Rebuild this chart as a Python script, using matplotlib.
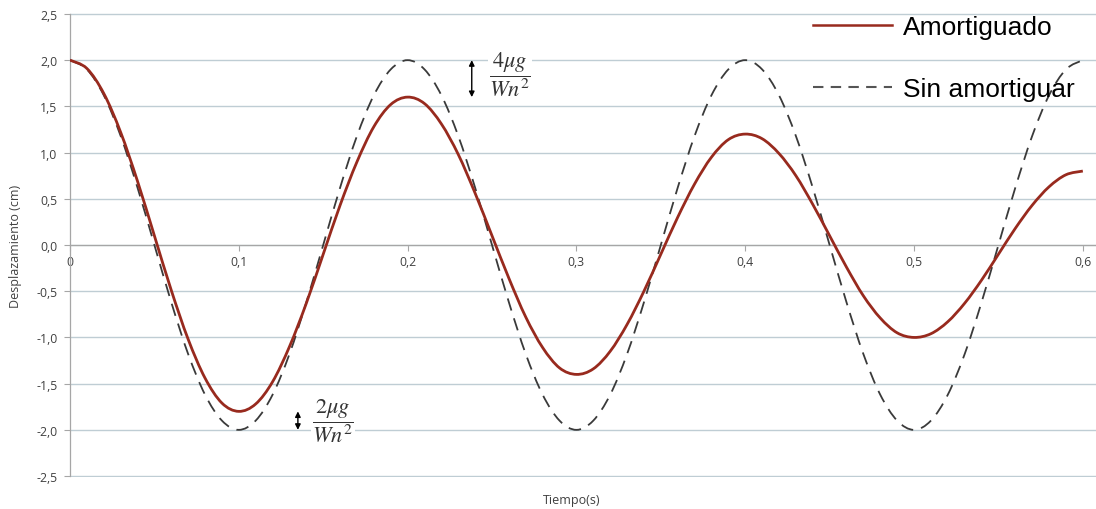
import numpy as np
import matplotlib
matplotlib.use("Agg")
import matplotlib.pyplot as plt
from matplotlib.ticker import FuncFormatter, MultipleLocator
from matplotlib.lines import Line2D
from matplotlib.path import Path
from matplotlib.patches import PathPatch

# Time samples (s), every 0.01 s from 0 to 0.6
tiempo = np.linspace(0.0, 0.6, 61)

# Damped response (cm)
amortiguado = [
    2.00, 1.91, 1.64, 1.22, 0.69, 0.10, -0.49, -1.02, -1.44, -1.71, -1.80,
    -1.72, -1.48, -1.10, -0.63, -0.10, 0.43, 0.90, 1.28, 1.52, 1.60,
    1.53, 1.31, 0.98, 0.56, 0.10, -0.36, -0.78, -1.11, -1.33, -1.40,
    -1.34, -1.15, -0.86, -0.50, -0.10, 0.30, 0.66, 0.95, 1.14, 1.20,
    1.15, 0.99, 0.75, 0.44, 0.10, -0.24, -0.55, -0.79, -0.95, -1.00,
    -0.96, -0.83, -0.63, -0.38, -0.10, 0.18, 0.43, 0.63, 0.76, 0.80,
]

# Undamped response (cm)
sin_amortiguar = [
    2.00, 1.90, 1.62, 1.18, 0.62, 0.00, -0.62, -1.18, -1.62, -1.90, -2.00,
    -1.90, -1.62, -1.18, -0.62, 0.00, 0.62, 1.18, 1.62, 1.90, 2.00,
    1.90, 1.62, 1.18, 0.62, 0.00, -0.62, -1.18, -1.62, -1.90, -2.00,
    -1.90, -1.62, -1.18, -0.62, 0.00, 0.62, 1.18, 1.62, 1.90, 2.00,
    1.90, 1.62, 1.18, 0.62, 0.00, -0.62, -1.18, -1.62, -1.90, -2.00,
    -1.90, -1.62, -1.18, -0.62, 0.00, 0.62, 1.18, 1.62, 1.90, 2.00,
]

series_labels = ["Amortiguado", "Sin amortiguar"]
x_label = "Tiempo(s)"
y_label = "Desplazamiento (cm)"
anot_sup = r"$\dfrac{4\mu g}{Wn^2}$"
anot_inf = r"$\dfrac{2\mu g}{Wn^2}$"

plt.rcParams["mathtext.fontset"] = "stix"


def smooth_path(x, y):
    """Spreadsheet-style smoothed line through the data points (cubic Bezier segments)."""
    p = np.column_stack([np.asarray(x, float), np.asarray(y, float)])
    n = len(p)
    verts = [p[0]]
    codes = [Path.MOVETO]
    for i in range(n - 1):
        p0 = p[i - 1] if i > 0 else p[i]
        p1 = p[i]
        p2 = p[i + 1]
        p3 = p[i + 2] if i + 2 < n else p[i + 1]
        c1 = p1 + (p2 - p0) / 6.0
        c2 = p2 - (p3 - p1) / 6.0
        verts += [c1, c2, p2]
        codes += [Path.CURVE4] * 3
    return Path(verts, codes)


W, H = 1096, 510
fig = plt.figure(figsize=(W / 100, H / 100), dpi=100)
ax = fig.add_axes([70 / W, 1 - 478 / H, (1096 - 70) / W, (478 - 14) / H])

red = "#982a1e"
dash_c = "#3a3a3a"
grid_c = "#bfcdd4"
axis_c = "#a6a6a6"
txt_c = "#404040"

ax.add_patch(PathPatch(smooth_path(tiempo, sin_amortiguar), fill=False,
                       edgecolor=dash_c, lw=1.3, linestyle=(0, (7, 4.5)), zorder=3))
ax.add_patch(PathPatch(smooth_path(tiempo, amortiguado), fill=False,
                       edgecolor=red, lw=2.0, zorder=4))

ax.set_xlim(0, 0.6078)
ax.set_ylim(-2.51, 2.51)
ax.spines["left"].set_bounds(-2.5, 2.5)
ax.yaxis.set_major_locator(MultipleLocator(0.5))
ax.xaxis.set_major_locator(MultipleLocator(0.1))

fmt_y = FuncFormatter(lambda v, p: f"{v:.1f}".replace(".", ",").replace("-0,0", "0,0"))
fmt_x = FuncFormatter(lambda v, p: "0" if abs(v) < 1e-9 else f"{v:.1f}".replace(".", ","))
ax.yaxis.set_major_formatter(fmt_y)
ax.xaxis.set_major_formatter(fmt_x)

for s in ["top", "right"]:
    ax.spines[s].set_visible(False)
ax.spines["bottom"].set_position(("data", 0))
ax.spines["bottom"].set_color(axis_c)
ax.spines["left"].set_color(axis_c)
ax.spines["bottom"].set_linewidth(0.9)
ax.spines["left"].set_linewidth(0.9)

ax.grid(axis="y", color=grid_c, lw=1.0, zorder=0)
ax.set_axisbelow(True)

ax.tick_params(axis="y", length=4, color=axis_c, labelsize=8.8, labelcolor=txt_c, pad=5)
ax.tick_params(axis="x", length=4, color=axis_c, labelsize=8.8, labelcolor=txt_c, pad=3)
for lab in ax.get_xticklabels() + ax.get_yticklabels():
    lab.set_fontfamily("Open Sans")

ax.set_xlabel(x_label, fontsize=9, color=txt_c, fontfamily="Open Sans")
ax.xaxis.set_label_coords((572 - 70) / (1096 - 70), -(494 - 478) / (478 - 14))
ax.set_ylabel(y_label, fontsize=9, color=txt_c, fontfamily="Open Sans")
ax.yaxis.set_label_coords(-(70 - 22) / (1096 - 70), 0.5)

# Annotations
arrow_kw = dict(arrowstyle="<|-|>", color="black", lw=1.0, mutation_scale=8, shrinkA=0, shrinkB=0)
ax.annotate("", xy=(0.238, 2.0), xytext=(0.238, 1.6), arrowprops=arrow_kw, zorder=5)
ax.annotate("", xy=(0.135, -1.8), xytext=(0.135, -2.0), arrowprops=arrow_kw, zorder=5)
bbox_kw = dict(facecolor="white", edgecolor="none", pad=1)
ax.text(0.2607, 1.85, anot_sup, fontsize=16, ha="center", va="center", color="#333333", bbox=bbox_kw, zorder=5)
ax.text(0.1557, -1.89, anot_inf, fontsize=16, ha="center", va="center", color="#333333", bbox=bbox_kw, zorder=5)

# Legend
handles = [
    Line2D([], [], color=red, lw=1.8),
    Line2D([], [], color="#555555", lw=1.5, dashes=(5, 3.5)),
]
leg = fig.legend(handles, series_labels, loc="upper left",
                 bbox_to_anchor=(813 / W, 1 - 16 / H), frameon=False,
                 prop={"family": "Liberation Sans", "size": 19},
                 handlelength=3.0, handletextpad=0.4, labelspacing=1.45,
                 borderpad=0, borderaxespad=0)

fig.savefig("out.png", dpi=100)
